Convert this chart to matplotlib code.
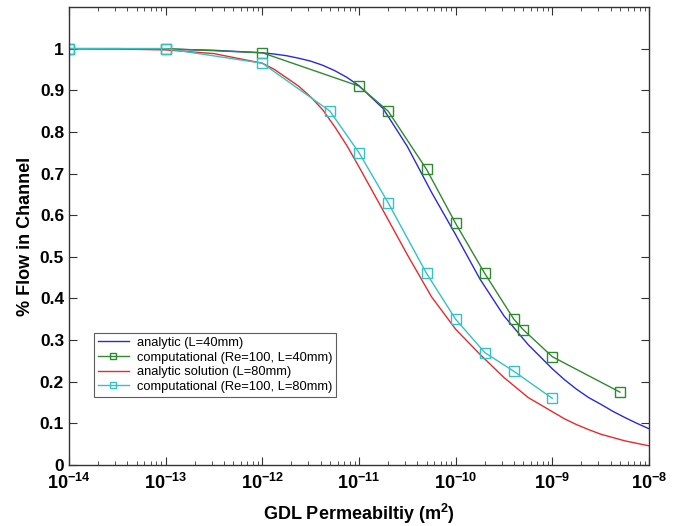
import numpy as np
import matplotlib
matplotlib.use("Agg")
import matplotlib.pyplot as plt
from matplotlib.ticker import LogLocator, NullFormatter, FixedLocator

plt.rcParams['font.family'] = ['Liberation Sans', 'DejaVu Sans']
plt.rcParams['mathtext.fontset'] = 'custom'
plt.rcParams['mathtext.rm'] = 'Liberation Sans:bold'
plt.rcParams['mathtext.bf'] = 'Liberation Sans:bold'
plt.rcParams['mathtext.default'] = 'bf'

# analytic curves (log10 of permeability, fraction of flow)
analytic_logk = [-14, -13.5, -13, -12.5, -12, -11.875, -11.75, -11.625, -11.5, -11.375,
                 -11.25, -11.125, -11, -10.75, -10.5, -10.25, -10, -9.75, -9.5, -9.25,
                 -9, -8.875, -8.75, -8.625, -8.5, -8.375, -8.25, -8.125, -8]
analytic_L40 = [1.0, 1.0, 0.999, 0.996, 0.990, 0.987, 0.983, 0.977, 0.970, 0.960,
                0.947, 0.931, 0.911, 0.856, 0.765, 0.655, 0.553, 0.447, 0.358, 0.289,
                0.231, 0.205, 0.182, 0.162, 0.146, 0.129, 0.114, 0.100, 0.087]
analytic_L80 = [1.0, 0.999, 0.997, 0.988, 0.965, 0.950, 0.930, 0.910, 0.884, 0.853,
                0.812, 0.767, 0.716, 0.611, 0.505, 0.404, 0.326, 0.266, 0.210, 0.162,
                0.128, 0.111, 0.097, 0.085, 0.074, 0.066, 0.058, 0.052, 0.046]

# computational results
comp40_k = [1e-14, 1e-13, 1e-12, 1e-11, 2e-11, 5e-11, 1e-10, 2e-10, 4e-10, 5e-10, 1e-9, 5e-9]
comp40_y = [1.0, 1.0, 0.99, 0.91, 0.85, 0.71, 0.58, 0.46, 0.35, 0.325, 0.26, 0.175]
comp80_k = [1e-14, 1e-13, 1e-12, 5e-12, 1e-11, 2e-11, 5e-11, 1e-10, 2e-10, 4e-10, 1e-9]
comp80_y = [1.0, 1.0, 0.965, 0.85, 0.75, 0.63, 0.46, 0.35, 0.27, 0.225, 0.16]

labels = ['analytic (L=40mm)', 'computational (Re=100, L=40mm)',
          'analytic solution (L=80mm)', 'computational (Re=100, L=80mm)']
xticks = [1e-14, 1e-13, 1e-12, 1e-11, 1e-10, 1e-9, 1e-8]
xtick_labels = ['$10^{-14}$', '$10^{-13}$', '$10^{-12}$', '$10^{-11}$',
                '$10^{-10}$', '$10^{-9}$', '$10^{-8}$']
yticks = [0, 0.1, 0.2, 0.3, 0.4, 0.5, 0.6, 0.7, 0.8, 0.9, 1.0]
ytick_labels = ['0', '0.1', '0.2', '0.3', '0.4', '0.5', '0.6', '0.7', '0.8', '0.9', '1']

c_blue = '#2a2ad8'
c_green = '#2f8a2f'
c_red = '#e82a2e'
c_cyan = '#35c2c2'

fig = plt.figure(figsize=(6.75, 5.26), dpi=100)
ax = fig.add_axes([0.1022, 0.116, 0.8593, 0.8707])

ak = 10.0 ** np.array(analytic_logk)
ax.plot(ak, analytic_L40, color=c_blue, lw=1.0, label=labels[0])
ax.plot(comp40_k, comp40_y, color=c_green, lw=1.0, marker='s', ms=6.5,
        mfc='none', mec=c_green, mew=1.0, label=labels[1])
ax.plot(ak, analytic_L80, color=c_red, lw=1.0, label=labels[2])
ax.plot(comp80_k, comp80_y, color=c_cyan, lw=1.0, marker='s', ms=6.5,
        mfc='none', mec=c_cyan, mew=1.0, label=labels[3])

ax.set_xscale('log')
ax.set_xlim(1e-14, 1e-8)
ax.set_ylim(0, 1.1)
ax.xaxis.set_major_locator(FixedLocator(xticks))
ax.set_xticklabels(xtick_labels)
ax.xaxis.set_minor_locator(LogLocator(base=10, subs=np.arange(2, 10), numticks=100))
ax.xaxis.set_minor_formatter(NullFormatter())
ax.set_yticks(yticks)
ax.set_yticklabels(ytick_labels)

ax.tick_params(axis='both', which='both', direction='in', top=True, right=True,
               colors='#333333')
ax.tick_params(axis='both', which='major', length=6, width=0.8, labelsize=12.5,
               labelcolor='black')
ax.tick_params(axis='x', which='major', pad=6, labelsize=13)
ax.tick_params(axis='both', which='minor', length=3, width=0.6)
for lab in ax.get_yticklabels():
    lab.set_fontweight('bold')
for s in ax.spines.values():
    s.set_color('#333333')
    s.set_linewidth(1.0)

ax.set_xlabel('GDL Permeabiltiy (m$^2$)', fontsize=13, fontweight='bold', labelpad=6)
ax.set_ylabel('% Flow in Channel', fontsize=13, fontweight='bold', labelpad=4)

leg = ax.legend(loc='lower left', bbox_to_anchor=(0.043, 0.149), borderaxespad=0,
                fontsize=9.3, frameon=True, fancybox=False, edgecolor='#333333',
                handlelength=2.4, labelspacing=0.2, borderpad=0.3, handletextpad=0.6,
                markerscale=0.65)
leg.get_frame().set_linewidth(0.8)

fig.savefig('out.png', dpi=100)
